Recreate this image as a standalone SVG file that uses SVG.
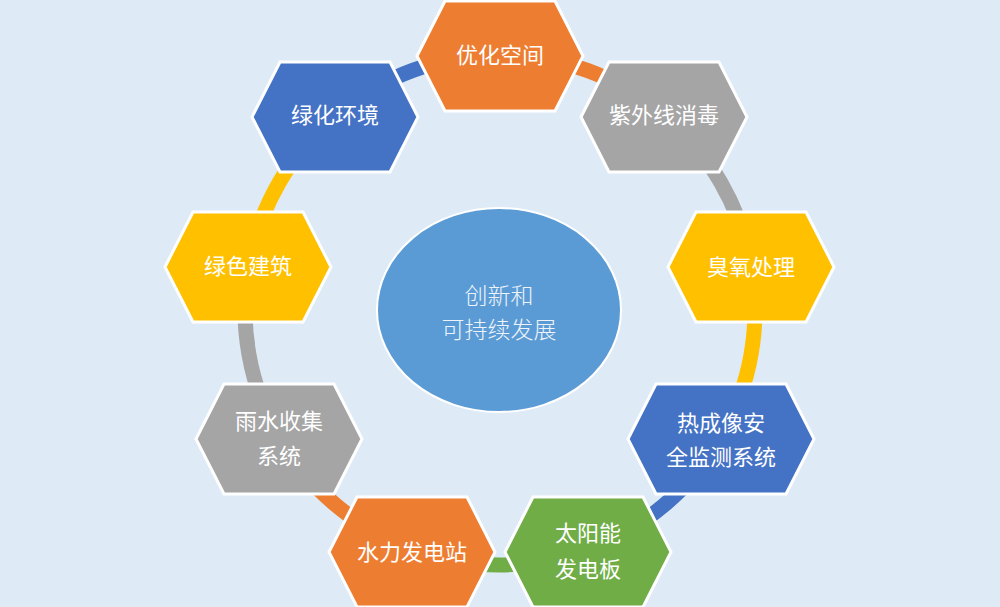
<svg xmlns="http://www.w3.org/2000/svg" width="1000" height="607" viewBox="0 0 1000 607">
<style>
.hex{stroke:#FFFFFF;stroke-width:3;stroke-linejoin:miter}
.lbl{font-family:"Noto Sans CJK SC","Noto Sans CJK JP",sans-serif;font-size:22px;fill:#FFFFFF;text-anchor:middle}
.ctr{font-family:"Noto Sans CJK SC","Noto Sans CJK JP",sans-serif;font-size:23px;fill:#EEF3FA;text-anchor:middle;font-weight:300}
.arc{fill:none;stroke-width:15}
.orange{fill:#ED7D31}.gray{fill:#A5A5A5}.yellow{fill:#FFC000}.blue{fill:#4472C4}.green{fill:#70AD47}
</style>
<rect x="0" y="0" width="1000" height="607" fill="#DEEBF7"/>
<g id="connectors">
<path class="arc" stroke="#ED7D31" d="M500,55 A255,255 0 0 1 663.9,114.7"/>
<path class="arc" stroke="#A5A5A5" d="M663.9,114.7 A255,255 0 0 1 751.1,265.7"/>
<path class="arc" stroke="#FFC000" d="M751.1,265.7 A255,255 0 0 1 720.8,437.5"/>
<path class="arc" stroke="#4472C4" d="M720.8,437.5 A255,255 0 0 1 587.2,549.6"/>
<path class="arc" stroke="#70AD47" d="M587.2,549.6 A255,255 0 0 1 412.8,549.6"/>
<path class="arc" stroke="#ED7D31" d="M412.8,549.6 A255,255 0 0 1 279.2,437.5"/>
<path class="arc" stroke="#A5A5A5" d="M279.2,437.5 A255,255 0 0 1 248.9,265.7"/>
<path class="arc" stroke="#FFC000" d="M248.9,265.7 A255,255 0 0 1 336.1,114.7"/>
<path class="arc" stroke="#4472C4" d="M336.1,114.7 A255,255 0 0 1 500,55"/>
</g>
<g id="center">
<ellipse cx="499" cy="310" rx="122" ry="102" fill="#5B9BD5" stroke="#FFFFFF" stroke-width="2"/>
<text class="ctr" x="499" y="303.5"><tspan x="499" y="303.5">创新和</tspan><tspan x="499" y="337.5">可持续发展</tspan></text>
</g>
<g id="node-youhua">
<polygon class="hex orange" points="417,56 445,1 555,1 583,56 555,111 445,111"/>
<text class="lbl" x="500" y="63">优化空间</text>
</g>
<g id="node-ziwai">
<polygon class="hex gray" points="581,117 609,62 719,62 747,117 719,172 609,172"/>
<text class="lbl" x="664" y="123">紫外线消毒</text>
</g>
<g id="node-chouyang">
<polygon class="hex yellow" points="668,267 696,212 806,212 834,267 806,322 696,322"/>
<text class="lbl" x="751" y="275">臭氧处理</text>
</g>
<g id="node-rechengxiang">
<polygon class="hex blue" points="628,439 656,384 786,384 814,439 786,494 656,494"/>
<text class="lbl" x="721" y="431"><tspan x="721" y="431">热成像安</tspan><tspan x="721" y="465">全监测系统</tspan></text>
</g>
<g id="node-taiyangneng">
<polygon class="hex green" points="505,552 533,497 643,497 671,552 643,607 533,607"/>
<text class="lbl" x="588" y="541"><tspan x="588" y="541">太阳能</tspan><tspan x="588" y="577">发电板</tspan></text>
</g>
<g id="node-shuili">
<polygon class="hex orange" points="329,552 357,497 467,497 495,552 467,607 357,607"/>
<text class="lbl" x="412" y="560">水力发电站</text>
</g>
<g id="node-yushui">
<polygon class="hex gray" points="196,439 224,384 334,384 362,439 334,494 224,494"/>
<text class="lbl" x="279" y="429"><tspan x="279" y="429">雨水收集</tspan><tspan x="279" y="464">系统</tspan></text>
</g>
<g id="node-lvse">
<polygon class="hex yellow" points="165,267 193,212 303,212 331,267 303,322 193,322"/>
<text class="lbl" x="248" y="274">绿色建筑</text>
</g>
<g id="node-lvhua">
<polygon class="hex blue" points="252,117 280,62 390,62 418,117 390,172 280,172"/>
<text class="lbl" x="335" y="123">绿化环境</text>
</g>
</svg>
